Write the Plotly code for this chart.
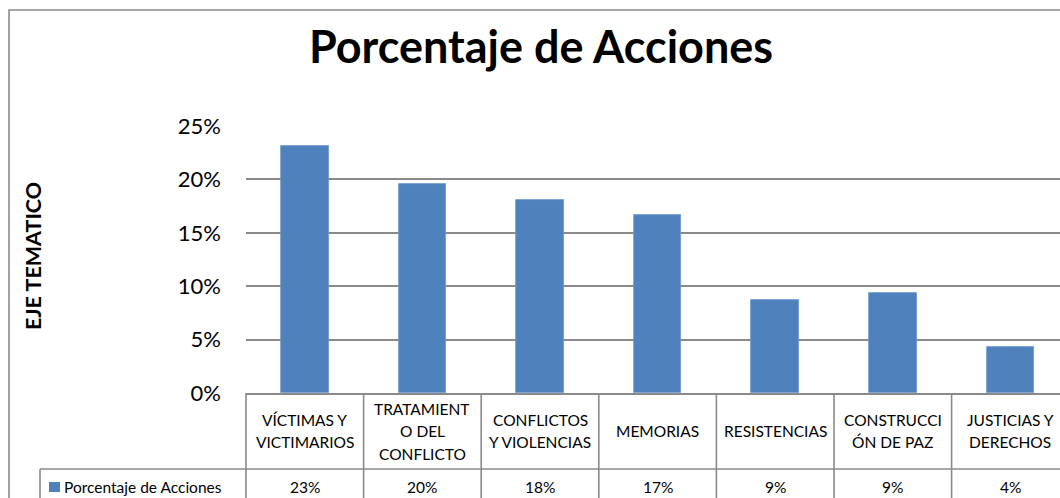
import plotly.graph_objects as go

# ---- data ----
categories = [
    "VÍCTIMAS Y\nVICTIMARIOS",
    "TRATAMIENT\nO DEL\nCONFLICTO",
    "CONFLICTOS\nY VIOLENCIAS",
    "MEMORIAS",
    "RESISTENCIAS",
    "CONSTRUCCI\nÓN DE PAZ",
    "JUSTICIAS Y\nDERECHOS",
]
values = [0.2315, 0.1957, 0.1807, 0.1664, 0.0868, 0.0933, 0.0428]
table_labels = ["23%", "20%", "18%", "17%", "9%", "9%", "4%"]
series_name = "Porcentaje de Acciones"
y_ticks = [0, 0.05, 0.10, 0.15, 0.20, 0.25]
y_ticktext = ["0%", "5%", "10%", "15%", "20%", "25%"]

# ---- style / layout constants ----
W, H = 1060, 498
ML, MT, MB = 246, 126, 105
PLOT_W = W - ML
PLOT_H = H - MT - MB
COL_W = 117.6
X0 = -0.5
X1 = X0 + PLOT_W / COL_W
BAR_COLOR = "#4F81BD"
GRID = "#8a8a8a"
FONT = "Lato"
TFS = 15.5

def py(p):  # pixel y -> paper y
    return (H - MB - p) / PLOT_H

def px(xd):  # data x -> paper x
    return (xd - X0) / (X1 - X0)

def ppx(p):  # pixel x -> paper x
    return (p - ML) / PLOT_W

n = len(categories)
xs = list(range(n))

fig = go.Figure()
fig.add_trace(go.Bar(
    x=xs, y=values, name=series_name,
    marker=dict(color=BAR_COLOR, line=dict(color="#6f9ad0", width=0.8)),
    width=0.405, showlegend=False, hoverinfo="skip",
))

shapes = []
line_style = dict(color=GRID, width=1.6)
# outer chart border
shapes.append(dict(type="rect", xref="paper", yref="paper",
                   x0=ppx(9), x1=ppx(1100), y0=py(520), y1=py(10),
                   line=line_style, fillcolor="rgba(0,0,0,0)", layer="below"))
# table horizontal lines
shapes.append(dict(type="line", xref="paper", yref="paper",
                   x0=ppx(40), x1=ppx(1100), y0=py(469), y1=py(469), line=line_style))
# table vertical lines
shapes.append(dict(type="line", xref="paper", yref="paper",
                   x0=ppx(40), x1=ppx(40), y0=py(469), y1=py(520), line=line_style))
for k in range(n + 1):
    xb = px(k - 0.5)
    shapes.append(dict(type="line", xref="paper", yref="paper",
                       x0=xb, x1=xb, y0=py(393), y1=py(520), line=line_style))
# legend key square
shapes.append(dict(type="rect", xref="paper", yref="paper",
                   x0=ppx(49), x1=ppx(60), y0=py(492), y1=py(482),
                   fillcolor=BAR_COLOR, line=dict(width=0)))

annotations = []
LINE_H = 22.5
CELL_MID = 431
for i, cat in enumerate(categories):
    lines = cat.split("\n")
    k = len(lines)
    for j, ln in enumerate(lines):
        yc = CELL_MID + (j - (k - 1) / 2) * LINE_H
        annotations.append(dict(x=i, y=py(yc), xref="x", yref="paper",
                                text=ln, showarrow=False, xanchor="center",
                                yanchor="middle",
                                font=dict(family=FONT, size=TFS, color="#000")))
    annotations.append(dict(x=i, y=py(487), xref="x", yref="paper",
                            text=table_labels[i], showarrow=False,
                            xanchor="center", yanchor="middle",
                            font=dict(family=FONT, size=TFS, color="#000")))
annotations.append(dict(x=ppx(62), y=py(487), xref="paper", yref="paper",
                        text=series_name, showarrow=False, xanchor="left",
                        yanchor="middle",
                        font=dict(family=FONT, size=TFS, color="#000")))
# y axis title
annotations.append(dict(x=ppx(33), y=py(256), xref="paper", yref="paper",
                        text="<b>EJE TEMATICO</b>", textangle=-90,
                        showarrow=False, xanchor="center", yanchor="middle",
                        font=dict(family=FONT, size=21.5, color="#000")))

fig.update_layout(
    width=W, height=H,
    margin=dict(l=ML, r=0, t=MT, b=MB, pad=0),
    paper_bgcolor="white", plot_bgcolor="white",
    title=dict(text="<b>Porcentaje de Acciones</b>", xref="container",
               x=541 / W, xanchor="center", yref="container",
               y=1 - 47 / H, yanchor="middle",
               font=dict(family=FONT, size=45, color="#000")),
    xaxis=dict(range=[X0, X1], showticklabels=False, ticks="",
               showgrid=False, zeroline=False, showline=True,
               linecolor=GRID, linewidth=1.6, fixedrange=True),
    yaxis=dict(range=[0, 0.25], tickvals=y_ticks, ticktext=y_ticktext,
               showgrid=True, gridcolor=GRID, gridwidth=1.6,
               zeroline=False, showline=False, ticks="",
               ticklabelstandoff=24,
               tickfont=dict(family=FONT, size=22, color="#000"),
               fixedrange=True),
    shapes=shapes, annotations=annotations,
    bargap=0,
)

fig.write_html("out.html", config={"displayModeBar": False},
               post_script="document.body.style.margin='0';")
